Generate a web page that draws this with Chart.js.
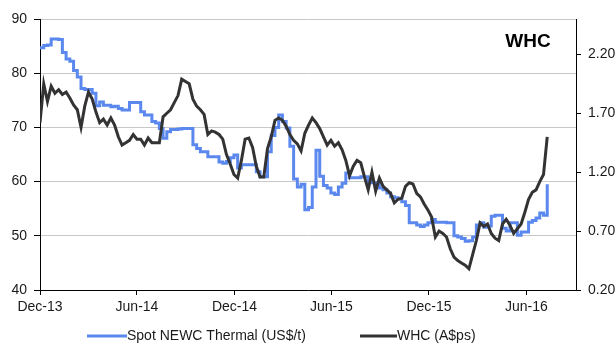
<!DOCTYPE html>
<html>
<head>
<meta charset="utf-8">
<script src="https://cdn.jsdelivr.net/npm/chart.js@4"></script>
<style>
  body { margin: 0; background: #fff; }
  #wrap { width: 616px; height: 345px; }
</style>
</head>
<body>
<div id="wrap"><canvas id="grafico"></canvas></div>
<script>
// weekly readings, first week = early Dec 2013
let coalPrice = [84.7,85.1,85.2,86.3,86.3,86.2,83.8,82.6,82.2,80.5,
  79.3,77.2,77.0,77.0,76.3,74.0,74.7,74.1,74.1,73.8,
  73.9,73.5,73.2,73.2,74.6,74.6,74.6,72.9,72.3,72.3,
  71.1,70.8,69.8,68.0,69.2,69.6,69.6,69.7,69.8,69.8,
  69.8,66.8,66.1,65.5,65.5,64.6,64.6,64.6,63.6,63.4,
  63.7,64.4,64.9,62.5,63.1,63.1,63.1,63.1,61.8,60.9,
  60.9,65.5,68.5,70.0,72.3,71.1,69.9,66.5,60.5,59.0,
  59.5,54.8,55.2,59.0,65.8,61.0,59.3,58.8,57.9,57.6,
  59.0,59.7,61.6,60.7,60.7,60.7,60.9,60.9,60.0,59.8,
  59.5,58.8,58.5,57.9,57.2,57.0,56.8,56.3,55.6,52.4,
  52.4,52.0,51.7,52.0,52.4,53.0,52.5,52.5,52.5,52.4,
  52.4,50.0,49.8,49.5,49.0,49.1,49.8,52.0,52.4,51.6,
  51.8,53.6,53.8,53.8,51.4,50.9,52.4,52.4,50.1,50.7,
  50.7,52.5,52.8,53.3,54.2,53.8,59.5];

let whcPrice = [1.62,1.95,1.80,1.93,1.87,1.90,1.86,1.88,1.83,1.77,
  1.73,1.58,1.76,1.88,1.82,1.71,1.62,1.65,1.60,1.66,
  1.60,1.50,1.43,1.45,1.47,1.52,1.48,1.48,1.43,1.49,
  1.45,1.45,1.45,1.67,1.70,1.73,1.79,1.85,1.99,1.97,
  1.95,1.82,1.76,1.73,1.69,1.52,1.55,1.54,1.52,1.48,
  1.35,1.27,1.18,1.15,1.30,1.48,1.49,1.41,1.25,1.16,
  1.16,1.40,1.50,1.64,1.66,1.64,1.59,1.52,1.47,1.44,
  1.38,1.53,1.60,1.66,1.62,1.57,1.50,1.43,1.47,1.42,
  1.45,1.39,1.30,1.17,1.25,1.30,1.28,1.16,1.05,1.20,
  1.04,1.15,1.08,1.05,1.02,0.94,0.97,0.98,1.08,1.11,
  1.10,1.02,0.99,0.93,0.88,0.82,0.65,0.70,0.68,0.65,
  0.55,0.48,0.45,0.43,0.41,0.38,0.50,0.62,0.77,0.74,
  0.76,0.68,0.64,0.62,0.76,0.80,0.75,0.68,0.72,0.76,
  0.86,0.97,1.03,1.05,1.12,1.18,1.50];

// days since 1 Dec 2013
let tickDays = [0,182,365,547,730,913];
let tickLabels = ['Dec-13','Jun-14','Dec-14','Jun-15','Dec-15','Jun-16'];
let rightTicks = [0.20,0.70,1.20,1.70,2.20];

let weekDays = coalPrice.map((v, i) => i * 7);

Chart.defaults.font.family = "'Liberation Sans', Arial, sans-serif";
Chart.defaults.font.size = 14;
Chart.defaults.color = '#1a1a1a';

let decor = {
  id: 'decor',
  afterDraw(chart) {
    let c = chart.ctx;
    c.save();
    c.fillStyle = '#000';
    c.font = "bold 19px 'Liberation Sans', Arial, sans-serif";
    c.textAlign = 'center';
    c.textBaseline = 'middle';
    c.fillText('WHC', 528, 42);

    // legend
    c.font = "14px 'Liberation Sans', Arial, sans-serif";
    c.textAlign = 'left';
    c.fillStyle = '#1a1a1a';
    let items = [[87, 127, 0], [360, 397, 1]];
    items.forEach(([x0, x1, k]) => {
      let ds = chart.data.datasets[k];
      c.strokeStyle = ds.borderColor;
      c.lineWidth = 3;
      c.beginPath();
      c.moveTo(x0, 336);
      c.lineTo(x1, 336);
      c.stroke();
      c.fillText(ds.label, x1, 336);
    });
    c.restore();
  }
};

let ctx = document.getElementById('grafico');
let chartGrafico = new Chart(ctx, {
  type: 'line',
  data: {
    datasets: [
      {
        label: 'Spot NEWC Thermal (US$/t)',
        data: weekDays.map((d, i) => ({x: d, y: coalPrice[i]})),
        yAxisID: 'y',
        borderColor: '#5b88ee',
        borderWidth: 3,
        stepped: true,
        pointRadius: 0,
        order: 1
      },
      {
        label: 'WHC (A$ps)',
        data: weekDays.map((d, i) => ({x: d, y: whcPrice[i]})),
        yAxisID: 'y1',
        borderColor: '#333333',
        borderWidth: 3,
        tension: 0,
        pointRadius: 0,
        order: 0
      }
    ]
  },
  options: {
    responsive: true,
    maintainAspectRatio: false,
    animation: false,
    layout: { padding: { top: 19, left: 0, right: 0, bottom: 0 } },
    plugins: { legend: { display: false }, tooltip: { enabled: false } },
    scales: {
      x: {
        type: 'linear',
        min: 0,
        max: 1006,
        afterBuildTicks: s => { s.ticks = tickDays.map(v => ({value: v})); },
        afterFit: s => { s.height = 55; },
        ticks: {
          padding: 4,
          maxRotation: 0,
          callback: v => tickLabels[tickDays.indexOf(v)]
        },
        grid: { drawOnChartArea: false, color: '#000', tickLength: 5 },
        border: { color: '#000' }
      },
      y: {
        position: 'left',
        min: 40,
        max: 90,
        ticks: { stepSize: 10, padding: 7 },
        afterFit: s => { s.width = 40; },
        grid: { color: '#c8c8c8', tickColor: '#000', tickLength: 6 },
        border: { color: '#000' }
      },
      y1: {
        position: 'right',
        min: 0.2,
        max: 2.5,
        afterBuildTicks: s => { s.ticks = rightTicks.map(v => ({value: v})); },
        afterFit: s => { s.width = 40; },
        ticks: { padding: 7, callback: v => v.toFixed(2) },
        grid: { drawOnChartArea: false, color: '#000', tickLength: 5 },
        border: { color: '#000' }
      }
    }
  },
  plugins: [decor]
});
</script>
</body>
</html>
